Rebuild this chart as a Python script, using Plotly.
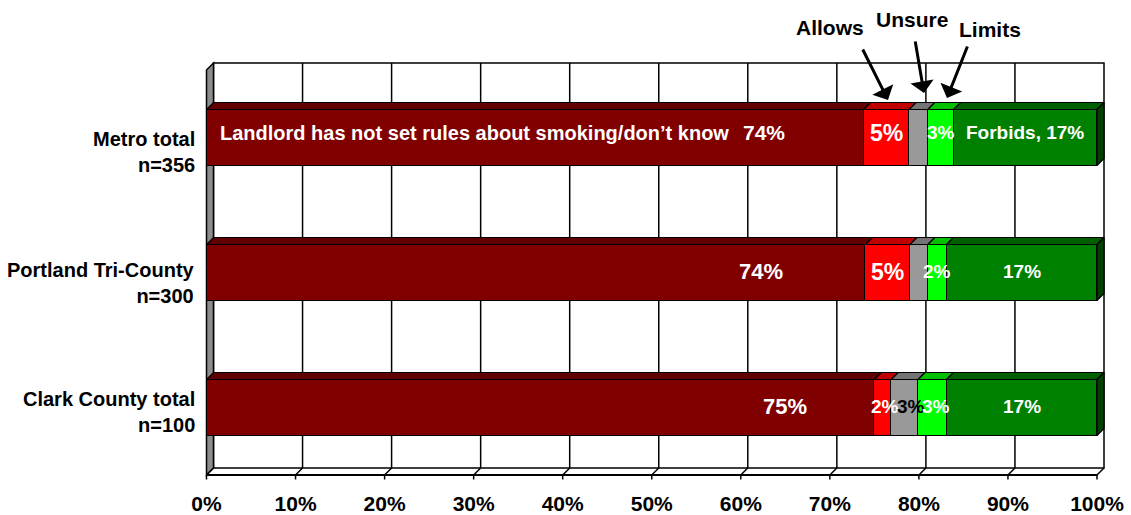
import plotly.graph_objects as go

# ---------------- data ----------------
categories = ["Metro total", "Portland Tri-County", "Clark County total"]
sample_sizes = ["n=356", "n=300", "n=100"]
series_names = ["Landlord has not set rules about smoking/don\u2019t know",
                "Allows", "Unsure", "Limits", "Forbids"]
not_set = [73.8, 74.0, 75.0]
allows = [5.1, 5.0, 1.9]
unsure = [2.1, 2.0, 3.0]
limits = [2.9, 2.1, 3.2]
forbids = [16.1, 16.9, 16.9]
series_values = [not_set, allows, unsure, limits, forbids]
# displayed labels
lbl_not_set = ["74%", "74%", "75%"]
lbl_allows = ["5%", "5%", "2%"]
lbl_unsure = ["", "", "3%"]
lbl_limits = ["3%", "2%", "3%"]
lbl_forbids = ["Forbids, 17%", "17%", "17%"]
series_labels = [lbl_not_set, lbl_allows, lbl_unsure, lbl_limits, lbl_forbids]
x_ticks = [0, 10, 20, 30, 40, 50, 60, 70, 80, 90, 100]
x_ticktext = [f"{v}%" for v in x_ticks]

# ---------------- style / layout ----------------
FONT = "Liberation Sans, Arial, sans-serif"
front_colors = ["#800000", "#FF0000", "#999999", "#00FF00", "#008000"]
top_colors = ["#600000", "#C00000", "#747474", "#00C000", "#006000"]
side_color = "#004000"
label_colors = [["white"] * 3, ["white"] * 3, ["black"] * 3, ["white"] * 3, ["white"] * 3]
label_sizes = [[21, 22, 22], [23, 23, 19], [18, 18, 19], [19, 19, 19], [19, 19, 19]]

W, H = 1131, 515
PXP = 8.905      # px per percent
X0 = 206.5       # px of 0%
PXC = 135.0      # px per category
YF = 70.0        # px of front-plane top (category -0.5)
L, R, T, B = 203, 1108, 56, 482   # plot area in px
DEPTH = 7.0
dx = DEPTH / PXP
dy = DEPTH / PXC
BAR_W = 56 / PXC

xr = [(L - X0) / PXP, (R - X0) / PXP]
yr = [(B - YF) / PXC - 0.5, (T - YF) / PXC - 0.5]


def px_to_paper_x(p):
    return (p - L) / (R - L)


def px_to_paper_y(p):
    return (B - p) / (B - T)


n = len(categories)
ypos = list(range(n))

fig = go.Figure()

for j, (name, vals) in enumerate(zip(series_names, series_values)):
    fig.add_trace(go.Bar(
        y=ypos, x=vals, orientation="h", name=name, width=BAR_W,
        marker=dict(color=front_colors[j], line=dict(color="black", width=1.5)),
        hoverinfo="x+name", showlegend=False))

starts = [[0.0] * n for _ in series_values]
for i in range(n):
    acc = 0.0
    for j, vals in enumerate(series_values):
        starts[j][i] = acc
        acc += vals[i]
for j, vals in enumerate(series_values):
    xs, ys = [], []
    for i in range(n):
        x0 = starts[j][i]
        x1 = x0 + vals[i]
        yt = ypos[i] - BAR_W / 2
        xs += [x0, x0 + dx, x1 + dx, x1, x0, None]
        ys += [yt, yt - dy, yt - dy, yt, yt, None]
    fig.add_trace(go.Scatter(x=xs, y=ys, mode="lines", fill="toself",
                             fillcolor=top_colors[j],
                             line=dict(color="black", width=1.2),
                             hoverinfo="skip", showlegend=False))
xs, ys = [], []
for i in range(n):
    xe = starts[-1][i] + series_values[-1][i]
    yt = ypos[i] - BAR_W / 2
    yb = ypos[i] + BAR_W / 2
    xs += [xe, xe + dx, xe + dx, xe, xe, None]
    ys += [yt, yt - dy, yb - dy, yb, yt, None]
fig.add_trace(go.Scatter(x=xs, y=ys, mode="lines", fill="toself", fillcolor=side_color,
                         line=dict(color="black", width=1.2),
                         hoverinfo="skip", showlegend=False))

# ---------------- walls / grid / floor ----------------
shapes = []
y_top, y_bot = -0.5, n - 0.5
shapes.append(dict(type="rect", xref="x", yref="y", x0=dx, x1=100 + dx,
                   y0=y_top - dy, y1=y_bot - dy, fillcolor="white",
                   line=dict(color="black", width=1.5), layer="below"))
for v in x_ticks[1:-1]:
    shapes.append(dict(type="line", xref="x", yref="y", x0=v + dx, x1=v + dx,
                       y0=y_top - dy, y1=y_bot - dy,
                       line=dict(color="black", width=1.5), layer="below"))
shapes.append(dict(type="path", xref="x", yref="y",
                   path=f"M 0 {y_bot} L {dx} {y_bot - dy} L {dx} {y_top - dy} L 0 {y_top} Z",
                   fillcolor="#8C8C8C", line=dict(color="black", width=1.5), layer="below"))
shapes.append(dict(type="line", xref="x", yref="y", x0=0, x1=100, y0=y_bot, y1=y_bot,
                   line=dict(color="black", width=2), layer="below"))
for v in x_ticks:
    shapes.append(dict(type="line", xref="x", yref="y", x0=v, x1=v + dx,
                       y0=y_bot, y1=y_bot - dy,
                       line=dict(color="black", width=1.5), layer="below"))
    shapes.append(dict(type="line", xref="x", yref="y", x0=v, x1=v,
                       y0=y_bot, y1=y_bot + 4.5 / PXC,
                       line=dict(color="black", width=1.5), layer="below"))

# ---------------- annotations ----------------
ann = []
cat_yshift = [-14, -10, -4]
for i in range(n):
    ann.append(dict(xref="paper", yref="y", x=px_to_paper_x(197), y=ypos[i],
                    xanchor="right", yanchor="middle", align="right", showarrow=False,
                    yshift=cat_yshift[i],
                    text=f"<b>{categories[i]}</b><br><b>{sample_sizes[i]}</b>",
                    font=dict(family=FONT, size=20, color="black")))

first_label_x = [62.6, 62.3, 65.0]
lbl_xshift = [[0, 0, 0], [0, 0, 2], [0, 0, 6], [0, 0, 4], [0, 0, 0]]
row_yshift = [5, 1, 1]
for j, labels in enumerate(series_labels):
    for i in range(n):
        if not labels[i]:
            continue
        if j == 0:
            xc = first_label_x[i]
        else:
            xc = starts[j][i] + series_values[j][i] / 2
        ann.append(dict(xref="x", yref="y", x=xc, y=ypos[i], showarrow=False,
                        xanchor="center", yanchor="middle",
                        xshift=lbl_xshift[j][i], yshift=row_yshift[i],
                        text=f"<b>{labels[i]}</b>",
                        font=dict(family=FONT, size=label_sizes[j][i], color=label_colors[j][i])))
ann.append(dict(xref="x", yref="y", x=1.3, y=ypos[0], showarrow=False,
                xanchor="left", yanchor="middle", yshift=row_yshift[0],
                text=f"<b>{series_names[0]}</b>",
                font=dict(family=FONT, size=20, color="white")))

callouts = [
    ("Allows", 830, 27, 888, 100, 862, 48),
    ("Unsure", 912, 20, 924, 93, 915, 40),
    ("Limits", 990, 29, 947, 98, 968, 45),
]
for name, tx, ty, hx, hy, sx, sy in callouts:
    ann.append(dict(xref="paper", yref="paper", x=px_to_paper_x(tx), y=px_to_paper_y(ty),
                    showarrow=False, text=f"<b>{name}</b>", xanchor="center", yanchor="middle",
                    font=dict(family=FONT, size=21, color="black")))
    ann.append(dict(xref="paper", yref="paper", x=px_to_paper_x(hx), y=px_to_paper_y(hy),
                    text="", showarrow=True, ax=sx - hx, ay=sy - hy,
                    arrowhead=1, arrowsize=1.3, arrowwidth=3, arrowcolor="black"))

fig.update_layout(
    width=W, height=H, autosize=False,
    margin=dict(l=L, r=W - R, t=T, b=H - B, pad=0, autoexpand=False),
    barmode="stack", bargap=0,
    plot_bgcolor="white", paper_bgcolor="white",
    shapes=shapes, annotations=ann, showlegend=False,
    xaxis=dict(range=xr, tickvals=x_ticks, ticktext=[f"<b>{t}</b>" for t in x_ticktext],
               showgrid=False, zeroline=False, showline=False, ticks="",
               tickfont=dict(family=FONT, size=21, color="black"),
               ticklabelstandoff=7, ticklabeloverflow="allow", automargin=False,
               fixedrange=True),
    yaxis=dict(range=yr, showticklabels=False, showgrid=False, zeroline=False,
               showline=False, ticks="", automargin=False, fixedrange=True),
    font=dict(family=FONT, color="black"),
)

page_css = ("document.documentElement.style.margin='0';"
            "document.documentElement.style.padding='0';"
            "document.documentElement.style.overflow='hidden';"
            "document.body.style.margin='0';"
            "document.body.style.padding='0';"
            "document.body.style.overflow='hidden';")
fig.write_html("out.html", post_script=page_css, config={"displayModeBar": False})
